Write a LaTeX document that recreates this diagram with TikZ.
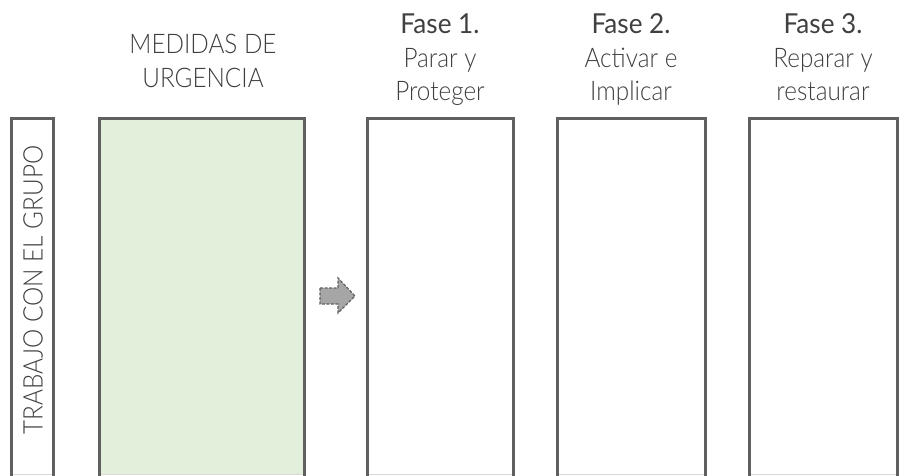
\documentclass[tikz,border=0pt]{standalone}
\usepackage{fontspec}
\setmainfont{Lato}
\newfontfamily\lightf[FakeStretch=0.9]{Lato Light}
\newfontfamily\headf[FakeStretch=0.95]{Lato}
\definecolor{boxline}{HTML}{606060}
\definecolor{botline}{HTML}{D9D9D9}
\definecolor{greenfill}{HTML}{E2EFDA}
\definecolor{txtdark}{HTML}{404040}
\definecolor{txtlight}{HTML}{3F3F3F}
\definecolor{arrowfill}{HTML}{A6A6A6}
\begin{document}
\begin{tikzpicture}[x=1pt,y=-1pt,
  frame/.style={draw=boxline,line width=3pt},
  lighttxt/.style={font=\lightf\fontsize{27}{30}\selectfont,text=txtlight,anchor=base,inner sep=0pt},
  headtxt/.style={font=\headf\fontsize{27.5}{30}\selectfont,text=txtdark,anchor=base,inner sep=0pt}]
\useasboundingbox (0,0) rectangle (899,475);
% boxes
\fill[greenfill] (99,118) rectangle (304,474);
\foreach \l/\r in {11/53,99/304,367/513,557/705,749/897}{
  \draw[botline,line width=1pt] (\l,474) -- (\r,474);
  \draw[frame] (\l,476) -- (\l,118) -- (\r,118) -- (\r,476);
}
% texts
\node[lighttxt] (m1) at (203,53) {MEDIDAS DE};
\node[lighttxt] (m2) at (203,87) {URGENCIA};
\node[headtxt] (f1) at (440,33) {Fase 1.};
\node[lighttxt] (f1a) at (440,67) {Parar y};
\node[lighttxt] (f1b) at (440,100) {Proteger};
\node[headtxt] (f2) at (631,33) {Fase 2.};
\node[lighttxt] (f2a) at (631,67) {Activar e};
\node[lighttxt] (f2b) at (631,100) {Implicar};
\node[headtxt] (f3) at (823,33) {Fase 3.};
\node[lighttxt] (f3a) at (823,67) {Reparar y};
\node[lighttxt] (f3b) at (823,100) {restaurar};
\node[lighttxt,rotate=90,anchor=center] (tg) at (33,290) {TRABAJO CON EL GRUPO};
% arrow
\draw[fill=arrowfill,draw=boxline,line width=1.2pt,dash pattern=on 3pt off 1.5pt,line join=miter]
  (320,288) -- (338,288) -- (338,278) -- (355,296) -- (338,313) -- (338,304) -- (320,304) -- cycle;
\end{tikzpicture}
\end{document}
